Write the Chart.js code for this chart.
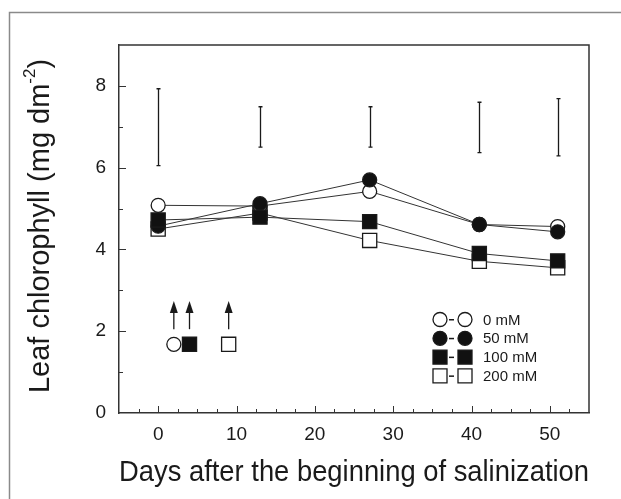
<!DOCTYPE html>
<html>
<head>
<meta charset="utf-8">
<script src="https://cdn.jsdelivr.net/npm/chart.js@4.4.1/dist/chart.umd.min.js"></script>
<style>
  html, body { margin: 0; padding: 0; background: #fff; }
  #wrap { position: relative; width: 621px; height: 499px; }
</style>
</head>
<body>
<div id="wrap"><canvas id="chl" width="621" height="499"></canvas></div>
<script>
// ===== Data =====
const days = [0, 13, 27, 41, 51];
const chl0 = [5.08, 5.06, 5.42, 4.61, 4.56];
const chl50 = [4.57, 5.12, 5.70, 4.61, 4.43];
const chl100 = [4.72, 4.79, 4.68, 3.90, 3.72];
const chl200 = [4.50, 4.89, 4.22, 3.71, 3.55];

// LSD bars (one per sampling day)
const lsdLow = [6.05, 6.50, 6.50, 6.37, 6.29];
const lsdHigh = [7.93, 7.49, 7.49, 7.60, 7.69];

// start of salinization: arrows + symbols under them
const startDays = [2, 4, 9];
const startStyles = ['circle', 'rect', 'rect'];
const startFills = ['#fff', '#111', '#fff'];
const startMarkY = 1.68;
const arrowFrom = 2.05;
const arrowTo = 2.74;

const xTicks = [0, 10, 20, 30, 40, 50];
const yTicks = [0, 2, 4, 6, 8];
const xMinorStep = 2.5;
const yMinorStep = 1;

const legendLabels = ['0 mM', '50 mM', '100 mM', '200 mM'];
const legendStyles = ['circle', 'circle', 'rect', 'rect'];
const legendFills = ['#fff', '#111', '#111', '#fff'];

const FONT = '"Liberation Sans", Arial, sans-serif';
const INK = '#1a1a1a';

// ===== Helpers =====
function pts(xs, ys) {
  return xs.map((x, i) => ({ x: x, y: ys[i] }));
}

function series(label, data, style, fill, order) {
  return {
    label: label,
    data: pts(days, data),
    showLine: true,
    borderColor: '#333',
    borderWidth: 1,
    pointStyle: style,
    pointRadius: style === 'rect' ? 10 : 7,
    pointHoverRadius: style === 'rect' ? 10 : 7,
    pointBackgroundColor: fill,
    pointBorderColor: INK,
    pointBorderWidth: 1.3,
    order: order
  };
}

function drawMarker(ctx, style, fill, x, y) {
  ctx.save();
  ctx.fillStyle = fill;
  ctx.strokeStyle = INK;
  ctx.lineWidth = 1.3;
  ctx.beginPath();
  if (style === 'circle') ctx.arc(x, y, 7, 0, Math.PI * 2);
  else ctx.rect(x - 7, y - 7, 14, 14);
  ctx.fill();
  ctx.stroke();
  ctx.restore();
}

// ===== Extras plugin: frame, inner ticks, box, LSD bars, arrows, legend, y title =====
const extras = {
  id: 'extras',
  afterDraw(chart) {
    const { ctx, chartArea: a, scales: { x, y } } = chart;
    ctx.save();

    // outer frame (only left and top edges are inside the picture)
    ctx.strokeStyle = '#8a8a8a';
    ctx.lineWidth = 1.5;
    ctx.beginPath();
    ctx.moveTo(9.5, 499);
    ctx.lineTo(9.5, 12.5);
    ctx.lineTo(621, 12.5);
    ctx.stroke();

    // top and right edge of plot box
    ctx.strokeStyle = '#333';
    ctx.lineWidth = 1.5;
    ctx.beginPath();
    ctx.moveTo(a.left, a.top);
    ctx.lineTo(a.right, a.top);
    ctx.lineTo(a.right, a.bottom);
    ctx.stroke();

    // inward ticks
    ctx.lineWidth = 1;
    ctx.strokeStyle = '#333';
    ctx.beginPath();
    for (let v = x.min + xMinorStep; v < x.max; v += xMinorStep) {
      const px = Math.round(x.getPixelForValue(v)) + 0.5;
      const len = xTicks.includes(v) ? 7 : 4;
      ctx.moveTo(px, a.bottom);
      ctx.lineTo(px, a.bottom - len);
    }
    for (let v = y.min + yMinorStep; v < y.max; v += yMinorStep) {
      const py = Math.round(y.getPixelForValue(v)) + 0.5;
      const len = yTicks.includes(v) ? 7 : 4;
      ctx.moveTo(a.left, py);
      ctx.lineTo(a.left + len, py);
    }
    ctx.stroke();

    // LSD bars
    ctx.strokeStyle = INK;
    ctx.lineWidth = 1.3;
    ctx.beginPath();
    days.forEach((d, i) => {
      const px = Math.round(x.getPixelForValue(d)) + 0.5;
      const y1 = y.getPixelForValue(lsdHigh[i]);
      const y2 = y.getPixelForValue(lsdLow[i]);
      ctx.moveTo(px, y1); ctx.lineTo(px, y2);
      ctx.moveTo(px - 2, y1); ctx.lineTo(px + 2, y1);
      ctx.moveTo(px - 2, y2); ctx.lineTo(px + 2, y2);
    });
    ctx.stroke();

    // arrows showing start of salinization
    ctx.fillStyle = INK;
    startDays.forEach(d => {
      const px = x.getPixelForValue(d);
      const yb = y.getPixelForValue(arrowFrom);
      const yt = y.getPixelForValue(arrowTo);
      ctx.beginPath();
      ctx.moveTo(px, yb);
      ctx.lineTo(px, yt + 10);
      ctx.stroke();
      ctx.beginPath();
      ctx.moveTo(px, yt);
      ctx.lineTo(px - 4, yt + 12);
      ctx.lineTo(px + 4, yt + 12);
      ctx.closePath();
      ctx.fill();
    });

    // legend
    const lx1 = a.right - 149, lx2 = a.right - 124, ltx = a.right - 106;
    const ly0 = a.top + 274.5, lstep = 18.8;
    ctx.font = '15px ' + FONT;
    ctx.textBaseline = 'middle';
    ctx.textAlign = 'left';
    legendLabels.forEach((lab, i) => {
      const ly = ly0 + i * lstep;
      drawMarker(ctx, legendStyles[i], legendFills[i], lx1, ly);
      drawMarker(ctx, legendStyles[i], legendFills[i], lx2, ly);
      ctx.fillStyle = INK;
      ctx.fillRect(lx1 + 9, ly - 0.5, 5, 1.5);
      ctx.fillText(lab, ltx, ly + 1);
    });

    // y axis title with superscript
    const main = 'Leaf chlorophyll (mg dm';
    const sup = '-2';
    const close = ')';
    ctx.font = '29px ' + FONT;
    const wMain = ctx.measureText(main).width;
    const wClose = ctx.measureText(close).width;
    ctx.font = '17px ' + FONT;
    const wSup = ctx.measureText(sup).width;
    const total = wMain + wSup + wClose;
    ctx.translate(49, (a.top + a.bottom) / 2 - 3);
    ctx.rotate(-Math.PI / 2);
    ctx.textBaseline = 'alphabetic';
    ctx.fillStyle = INK;
    let cx = -total / 2;
    ctx.font = '29px ' + FONT;
    ctx.fillText(main, cx, 0);
    cx += wMain;
    ctx.font = '17px ' + FONT;
    ctx.fillText(sup, cx, -14);
    cx += wSup;
    ctx.font = '29px ' + FONT;
    ctx.fillText(close, cx, 0);

    ctx.restore();
  }
};

// ===== Chart =====
const startSets = startDays.map((d, i) => ({
  label: 'start',
  data: [{ x: d, y: startMarkY }],
  showLine: false,
  pointStyle: startStyles[i],
  pointRadius: startStyles[i] === 'rect' ? 10 : 7,
  pointBackgroundColor: startFills[i],
  pointBorderColor: INK,
  pointBorderWidth: 1.3,
  order: 5
}));

new Chart(document.getElementById('chl').getContext('2d'), {
  type: 'scatter',
  data: {
    datasets: [
      series('200 mM', chl200, 'rect', '#fff', 3),
      series('0 mM', chl0, 'circle', '#fff', 2),
      series('50 mM', chl50, 'circle', '#111', 1),
      series('100 mM', chl100, 'rect', '#111', 0)
    ].concat(startSets)
  },
  options: {
    responsive: false,
    animation: false,
    events: [],
    layout: { padding: { top: 45, right: 32, left: 0, bottom: 0 } },
    plugins: { legend: { display: false }, tooltip: { enabled: false } },
    scales: {
      x: {
        type: 'linear',
        min: -5,
        max: 55,
        afterBuildTicks: s => { s.ticks = xTicks.map(v => ({ value: v })); },
        afterFit: s => { s.height = 86; },
        grid: { display: false, drawTicks: false },
        border: { display: true, color: '#333', width: 1.5 },
        ticks: { color: INK, font: { family: FONT, size: 19 }, padding: 10 },
        title: {
          display: true,
          text: 'Days after the beginning of salinization',
          color: INK,
          font: { family: FONT, size: 29 },
          padding: { top: 0, bottom: 9 }
        }
      },
      y: {
        min: 0,
        max: 9,
        afterBuildTicks: s => { s.ticks = yTicks.map(v => ({ value: v })); },
        afterFit: s => { s.width = 119; },
        grid: { display: false, drawTicks: false },
        border: { display: true, color: '#333', width: 1.5 },
        ticks: { color: INK, font: { family: FONT, size: 19 }, padding: 13 }
      }
    }
  },
  plugins: [extras]
});
</script>
</body>
</html>
